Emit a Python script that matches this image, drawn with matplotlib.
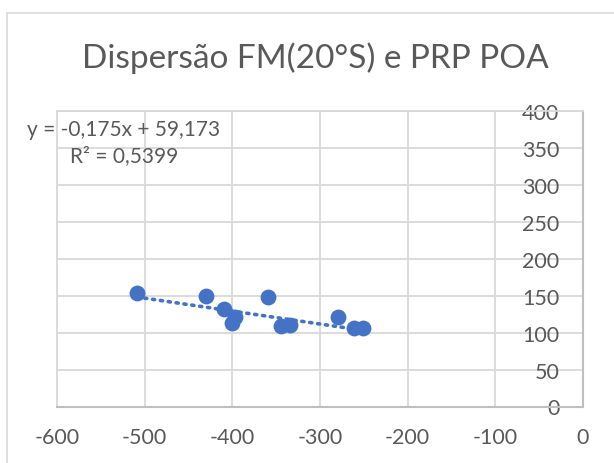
import matplotlib
matplotlib.use("Agg")
import matplotlib.pyplot as plt
from matplotlib.patches import Rectangle
import numpy as np

# Data
fm_x = [-509, -430, -409, -397, -400, -359, -344, -334, -279, -261, -251]
prp_y = [153, 149.7, 131.8, 120.5, 112.8, 148, 109, 110, 120.5, 105.7, 105.7]
slope = -0.175
intercept = 59.173
x_ticks = [-600, -500, -400, -300, -200, -100, 0]
y_ticks = [0, 50, 100, 150, 200, 250, 300, 350, 400]
title = "Dispersão FM(20°S) e PRP POA"
eq_text = "y = -0,175x + 59,173\nR² = 0,5399"

FONT = ["Lato", "DejaVu Sans"]
TXT = "#595959"
GRID = "#d9d9d9"
AXC = "#bfbfbf"
BLUE = "#4472C4"

W, H = 614, 464
fig = plt.figure(figsize=(W / 100, H / 100), dpi=100)
fig.patch.set_facecolor("white")

# chart area border
fig.patches.append(Rectangle((7 / W, -0.2), 1.3, 1 - 14 / H + 0.2, transform=fig.transFigure,
                             fill=False, edgecolor=GRID, linewidth=1.2))

ax = fig.add_axes([57 / W, (H - 407.5) / H, (583 - 57) / W, (407.5 - 112) / H])
ax.set_xlim(-600, 0)
ax.set_ylim(0, 400)
ax.set_xticks(x_ticks)
ax.set_yticks(y_ticks)
ax.set_xticklabels([str(v) for v in x_ticks])
ax.set_yticklabels([str(v) for v in y_ticks])
ax.grid(True, color=GRID, linewidth=1.3, zorder=0)
ax.set_axisbelow(True)
for s in ["left", "top"]:
    ax.spines[s].set_color(GRID)
    ax.spines[s].set_linewidth(1.3)
for s in ["right", "bottom"]:
    ax.spines[s].set_color(AXC)
    ax.spines[s].set_linewidth(1.5)

ax.tick_params(axis="x", length=0, pad=15, labelsize=15.5, labelcolor=TXT)
ax.tick_params(axis="y", length=0, left=False, labelleft=False, right=False, labelright=True,
               pad=-17, labelsize=15.5, labelcolor=TXT)
for t in ax.get_yticklabels():
    t.set_horizontalalignment("right")
    t.set_family(FONT)
    t.set_zorder(5)
for t in ax.get_xticklabels():
    t.set_family(FONT)

# trendline
xs = np.array([min(fm_x), max(fm_x)])
ax.plot(xs, slope * xs + intercept, linestyle=(0, (0.6, 1.6)), color=BLUE, linewidth=2.6,
        solid_capstyle="round", dash_capstyle="round", zorder=3)
ax.scatter(fm_x, prp_y, s=130, color=BLUE, zorder=4, linewidths=0)

fig.text(315 / W, 1 - 58 / H, title, ha="center", va="center", fontsize=24, color=TXT, family=FONT)
fig.text(124 / W, 1 - 143 / H, eq_text, ha="center", va="center", fontsize=15, color=TXT,
         family=FONT, linespacing=1.4)

fig.savefig("out.png", dpi=100)
